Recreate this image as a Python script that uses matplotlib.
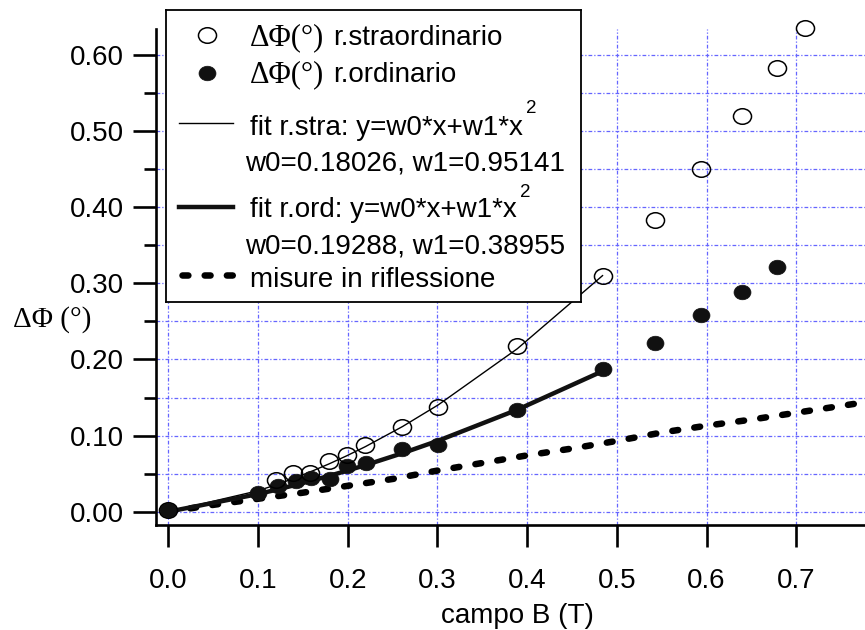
import numpy as np
import matplotlib
matplotlib.use('Agg')
import matplotlib.pyplot as plt
from matplotlib.path import Path
from matplotlib.transforms import Affine2D
from matplotlib.ticker import MultipleLocator, FormatStrFormatter

# ---------------- data ----------------
x_stra = [0.0, 0.120, 0.139, 0.158, 0.179, 0.199, 0.219, 0.261, 0.301, 0.389, 0.484, 0.542, 0.594, 0.640, 0.678, 0.710]
y_stra = [0.002, 0.042, 0.051, 0.051, 0.067, 0.074, 0.087, 0.111, 0.137, 0.218, 0.309, 0.383, 0.450, 0.520, 0.583, 0.635]

x_ord = [0.0, 0.100, 0.122, 0.142, 0.159, 0.180, 0.199, 0.220, 0.261, 0.301, 0.389, 0.484, 0.542, 0.594, 0.640, 0.678]
y_ord = [0.002, 0.025, 0.034, 0.040, 0.044, 0.043, 0.060, 0.064, 0.083, 0.088, 0.134, 0.188, 0.221, 0.258, 0.289, 0.321]

x_refl = [0.0, 0.05, 0.10, 0.15, 0.20, 0.25, 0.30, 0.35, 0.40, 0.45, 0.50, 0.55, 0.60, 0.65, 0.70, 0.75, 0.80]
y_refl = [0.0, 0.009, 0.017, 0.025, 0.034, 0.043, 0.054, 0.064, 0.074, 0.083, 0.093, 0.104, 0.113, 0.121, 0.130, 0.139, 0.148]

# fit coefficients (from legend)
w_stra = [0.18026, 0.95141]
w_ord = [0.19288, 0.38955]
fit_xmax = 0.484

x_ticks = [0.0, 0.1, 0.2, 0.3, 0.4, 0.5, 0.6, 0.7]
y_ticks = [0.0, 0.1, 0.2, 0.3, 0.4, 0.5, 0.6]

# ---------------- figure ----------------
W, H = 865, 630
plt.rcParams['font.family'] = ['Liberation Sans', 'DejaVu Sans']
fig = plt.figure(figsize=(W / 100, H / 100), dpi=100)


def rect(x0, y0, x1, y1):
    return [x0 / W, 1 - y1 / H, (x1 - x0) / W, (y1 - y0) / H]


ax = fig.add_axes(rect(156, 29, 865, 525))
ax.set_xlim(-0.0138, 0.7766)
ax.set_ylim(-0.01747, 0.6341)

for s in ['top', 'right']:
    ax.spines[s].set_visible(False)
for s in ['left', 'bottom']:
    ax.spines[s].set_linewidth(1.9)

ax.set_xticks(x_ticks)
ax.xaxis.set_major_formatter(FormatStrFormatter('%.1f'))
ax.set_yticks(y_ticks)
ax.yaxis.set_minor_locator(MultipleLocator(0.05))
ax.yaxis.set_major_formatter(FormatStrFormatter('%.2f'))
ax.tick_params(axis='x', which='major', direction='out', length=15.8, width=1.9,
               pad=15, labelsize=20)
ax.tick_params(axis='y', which='major', direction='out', length=16.5, width=1.9,
               pad=6.5, labelsize=20)
ax.tick_params(axis='y', which='minor', direction='out', length=8.6, width=1.9)

grid_kw = dict(color='#6565ff', linewidth=0.9, linestyle=(0, (3, 1.6, 1, 1.6)))
ax.grid(True, axis='x', which='major', **grid_kw)
ax.grid(True, axis='y', which='both', **grid_kw)
ax.set_axisbelow(True)

# elliptical marker (the original is slightly stretched horizontally)
ell = Path.unit_circle().transformed(Affine2D().scale(1.0, 0.86))

# fit curves, evaluated at the measured field values
xf = np.array(sorted(set(x_stra) | set(x_ord)))
xf = xf[xf <= fit_xmax]
ax.plot(xf, w_stra[0] * xf + w_stra[1] * xf ** 2, color='black', lw=1.0, zorder=3)
ax.plot(xf, w_ord[0] * xf + w_ord[1] * xf ** 2, color='#111111', lw=3.2, zorder=3)

# reflection measurements
refl_style = dict(color='black', lw=4.7, dashes=(0.9, 2.5), dash_capstyle='round')
ax.plot(x_refl, y_refl, zorder=2, **refl_style)

ax.plot(x_ord, y_ord, linestyle='none', marker=ell, ms=12.2, mfc='#111111',
        mec='#111111', mew=0.5, zorder=4, clip_on=False)
ax.plot(x_stra, y_stra, linestyle='none', marker=ell, ms=13, mfc='none',
        mec='black', mew=1.1, zorder=5, clip_on=False)

# axis labels
fig.text(13 / W, 1 - 320 / H, 'ΔΦ (°)', family=['Liberation Serif', 'DejaVu Serif'],
         fontsize=21, ha='left', va='center')
fig.text(517 / W, 1 - 623 / H, 'campo B (T)', fontsize=20, ha='center', va='baseline')

# ---------------- legend box ----------------
lax = fig.add_axes(rect(166, 10, 581, 302), zorder=10)
lax.set_xlim(166, 581)
lax.set_ylim(302, 10)
lax.set_xticks([])
lax.set_yticks([])
lax.set_facecolor('white')
for s in lax.spines.values():
    s.set_linewidth(1.3)

serif = ['Liberation Serif', 'DejaVu Serif']
lax.plot([207], [35], marker=ell, ms=13, mfc='none', mec='black', mew=1.1)
lax.text(250, 45, 'ΔΦ(°)', family=serif, fontsize=22, va='baseline')
lax.text(333, 45, 'r.straordinario', fontsize=20, va='baseline')

lax.plot([207], [73], marker=ell, ms=12.2, mfc='#111111', mec='#111111', mew=0.5)
lax.text(250, 82, 'ΔΦ(°)', family=serif, fontsize=22, va='baseline')
lax.text(333, 82, 'r.ordinario', fontsize=20, va='baseline')

renderer = fig.canvas.get_renderer()


def text_with_sup(x, y, s, ysup):
    t = lax.text(x, y, s, fontsize=20, va='baseline')
    bb = t.get_window_extent(renderer=renderer)
    x_end = lax.transData.inverted().transform((bb.x1, bb.y0))[0]
    lax.text(x_end + 3, ysup, '2', fontsize=13.5, va='baseline')


lax.plot([179, 233], [123, 123], color='black', lw=1.0)
text_with_sup(250, 135, 'fit r.stra: y=w0*x+w1*x', 113)
lax.text(245, 170, 'w0=0.18026, w1=0.95141', fontsize=20, va='baseline')

lax.plot([179, 233], [207, 207], color='#111111', lw=3.2)
text_with_sup(250, 217, 'fit r.ord: y=w0*x+w1*x', 197)
lax.text(245, 253, 'w0=0.19288, w1=0.38955', fontsize=20, va='baseline')

lax.plot([182, 233], [275, 275], **refl_style)
lax.text(250, 287, 'misure in riflessione', fontsize=20, va='baseline')

fig.savefig('out.png', dpi=100)
